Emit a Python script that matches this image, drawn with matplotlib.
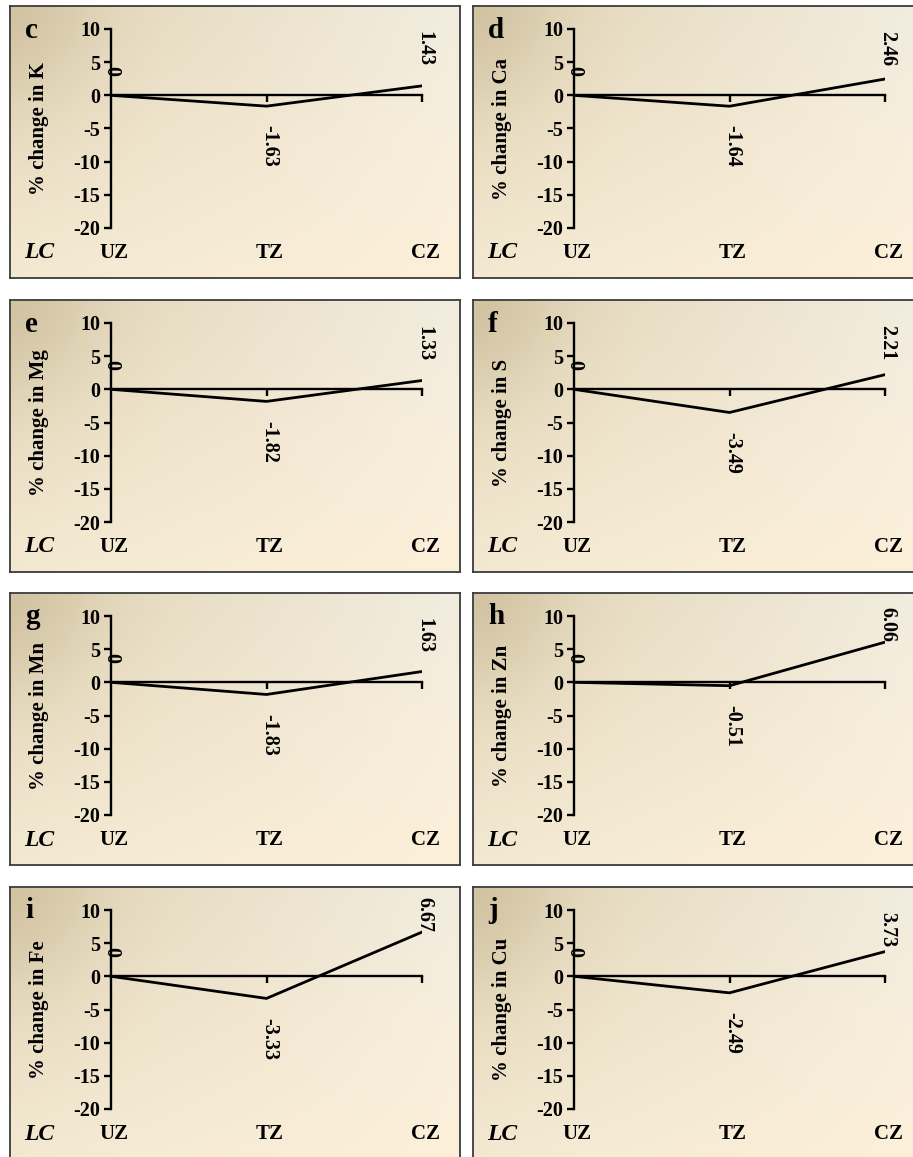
import numpy as np
import matplotlib
matplotlib.use('Agg')
import matplotlib.pyplot as plt
from matplotlib.colors import to_rgb

plt.rcParams['font.family'] = ['Liberation Serif', 'DejaVu Serif']
plt.rcParams['axes.unicode_minus'] = False

# Data
panel_letters = ['c', 'd', 'e', 'f', 'g', 'h', 'i', 'j']
elements = ['K', 'Ca', 'Mg', 'S', 'Mn', 'Zn', 'Fe', 'Cu']
zones = ['UZ', 'TZ', 'CZ']
uz_change = [0, 0, 0, 0, 0, 0, 0, 0]
tz_change = [-1.63, -1.64, -1.82, -3.49, -1.83, -0.51, -3.33, -2.49]
cz_change = [1.43, 2.46, 1.33, 2.21, 1.63, 6.06, 6.67, 3.73]
y_ticks = [-20, -15, -10, -5, 0, 5, 10]

W, H = 913, 1157
PW, PH = 450, 272
col_x = [10, 473]
row_y = [6, 300, 593, 887]


def fig_rect(x, y, w, h):
    # pixel box (top-left origin) -> figure fraction
    return [x / W, 1 - (y + h) / H, w / W, h / H]


def gradient(nx=180, ny=110):
    u = np.linspace(0, 1, nx)[None, :]
    v = np.linspace(0, 1, ny)[:, None]
    tl = np.array(to_rgb('#e2d5b6'))
    tr = np.array(to_rgb('#f2ede0'))
    bl = np.array(to_rgb('#f3e9d2'))
    br = np.array(to_rgb('#fdf0da'))
    img = ((1 - u) * (1 - v))[..., None] * tl + (u * (1 - v))[..., None] * tr \
        + ((1 - u) * v)[..., None] * bl + (u * v)[..., None] * br
    corner = np.exp(-((u / 0.18) ** 2 + (v / 0.35) ** 2))[..., None]
    img = img * (1 - 0.5 * corner) + np.array(to_rgb('#c2b28e')) * 0.5 * corner
    return np.clip(img, 0, 1)


def draw_panel(fig, x0, y0, letter, element, values):
    bg = fig.add_axes(fig_rect(x0, y0, PW, PH))
    bg.imshow(gradient(), extent=[0, 1, 0, 1], aspect='auto', zorder=0)
    bg.set_xlim(0, 1)
    bg.set_ylim(0, 1)
    bg.set_xticks([])
    bg.set_yticks([])
    for s in bg.spines.values():
        s.set_color('#3c3c3c')
        s.set_linewidth(1.3)

    def px(dx, dy):
        return dx / PW, 1 - dy / PH

    bg.text(*px(15, 24), letter, fontsize=21, fontweight='bold', va='center', ha='left')
    bg.text(*px(14, 247), 'LC', fontsize=17, fontweight='bold', style='italic',
            va='center', ha='left')

    ax = fig.add_axes(fig_rect(x0 + 101, y0 + 23, 311, 199))
    ax.set_facecolor('none')
    x = np.arange(len(zones))
    ax.plot(x, values, color='black', lw=2.0, solid_joinstyle='miter', zorder=3)
    ax.set_xlim(0, 2)
    ax.set_ylim(-20, 10)

    ax.spines['top'].set_visible(False)
    ax.spines['right'].set_visible(False)
    ax.spines['left'].set_position(('data', 0))
    ax.spines['bottom'].set_position(('data', 0))
    for s in ('left', 'bottom'):
        ax.spines[s].set_linewidth(1.7)
        ax.spines[s].set_color('black')
    ax.set_yticks(y_ticks)
    ax.set_yticklabels([str(t) for t in y_ticks], fontsize=14.5, fontweight='bold')
    ax.tick_params(axis='y', direction='out', length=5, width=1.7, pad=3)
    ax.set_xticks([1, 2])
    ax.set_xticklabels([])
    ax.tick_params(axis='x', direction='out', length=5, width=1.7)

    for i, z in enumerate(zones):
        ax.text(i + 0.02, -0.126, z, transform=ax.get_xaxis_transform(), fontsize=15,
                fontweight='bold', ha='center', va='center', clip_on=False)

    ax.set_ylabel('% change in ' + element, fontsize=15, fontweight='bold')
    ax.yaxis.set_label_coords(-0.2, 0.5)

    # data labels, rotated like the source
    for i, v in enumerate(values):
        lab = '{:g}'.format(v)
        xl = i + 0.015 if i > 0 else i
        if v >= 0:
            yb = max(min(v + 2.9, 4.4), v) if i > 0 else v + 2.9
            ax.text(xl, yb, lab, rotation=270, fontsize=14.5, fontweight='bold',
                    ha='center', va='bottom', clip_on=False, zorder=4)
        else:
            ax.text(xl, v - 2.9, lab, rotation=270, fontsize=14.5, fontweight='bold',
                    ha='center', va='top', clip_on=False, zorder=4)


def main():
    fig = plt.figure(figsize=(W / 100, H / 100), dpi=100)
    fig.patch.set_facecolor('white')
    for k in range(len(panel_letters)):
        r, c = divmod(k, 2)
        vals = [uz_change[k], tz_change[k], cz_change[k]]
        draw_panel(fig, col_x[c], row_y[r], panel_letters[k], elements[k], vals)
    fig.savefig('out.png', dpi=100)


if __name__ == "__main__":
    main()
